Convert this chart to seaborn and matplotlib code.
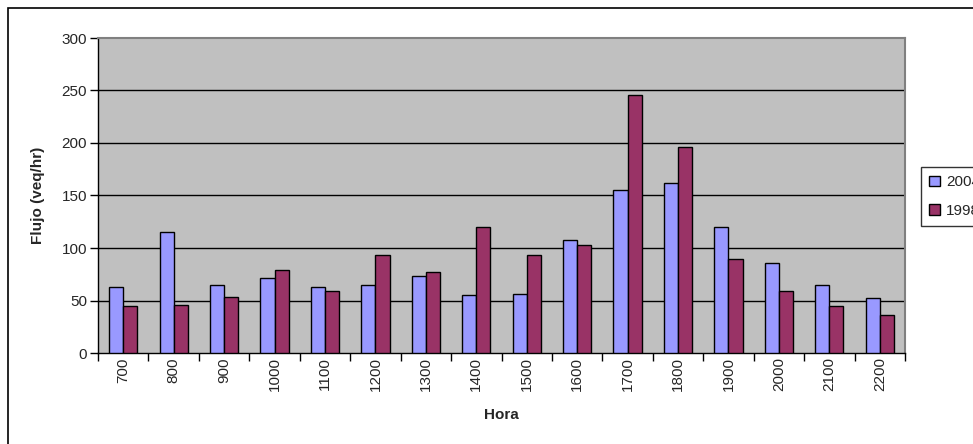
import matplotlib
matplotlib.use("Agg")
import matplotlib.pyplot as plt
import matplotlib.patches as mpatches
import seaborn as sns
import pandas as pd

# Hourly traffic flow (veq/hr) for two survey years
horas = ["700", "800", "900", "1000", "1100", "1200", "1300", "1400",
         "1500", "1600", "1700", "1800", "1900", "2000", "2100", "2200"]
flujo_2004 = [63, 115, 65, 71, 63, 65, 73, 55, 56, 108, 155, 162, 120, 86, 65, 52]
flujo_1998 = [45, 46, 53, 79, 59, 93, 77, 120, 93, 103, 246, 196, 90, 59, 45, 36]
series = ["2004", "1998"]
colores = ["#9999FF", "#993366"]

df = pd.concat([
    pd.DataFrame({"Hora": horas, "Flujo": flujo_2004, "Año": series[0]}),
    pd.DataFrame({"Hora": horas, "Flujo": flujo_1998, "Año": series[1]}),
])

sns.set_style("white")
plt.rcParams["font.family"] = ["Liberation Sans", "DejaVu Sans"]

W, H = 973, 444
fig = plt.figure(figsize=(W / 100, H / 100), dpi=100)
ax = fig.add_axes([98 / W, 1 - 353 / H, (905 - 98) / W, (353 - 38) / H])
ax.set_facecolor("#C0C0C0")

sns.barplot(data=df, x="Hora", y="Flujo", hue="Año", order=horas,
            hue_order=series, palette=colores, width=0.56,
            edgecolor="black", linewidth=1, saturation=1, ax=ax,
            legend=False, zorder=3)

ax.set_ylim(0, 300)
ax.set_xlim(-0.5, len(horas) - 0.5)
ax.set_yticks(range(0, 301, 50))
for y in range(50, 300, 50):
    ax.axhline(y, color="black", lw=1, zorder=1)

# tick marks between categories, labels centered under each group
ax.set_xticks([i - 0.5 for i in range(len(horas) + 1)])
ax.set_xticklabels([])
ax.set_xticks(range(len(horas)), minor=True)
ax.set_xticklabels(horas, minor=True, rotation=90, fontsize=11)
ax.tick_params(axis="x", which="minor", length=0, pad=3)
ax.tick_params(axis="x", which="major", length=6, width=1, color="black",
               direction="out", bottom=True)
ax.tick_params(axis="y", length=6, width=1, color="black", direction="out",
               left=True, labelsize=11, pad=2)

for side in ("left", "bottom"):
    ax.spines[side].set_color("black")
    ax.spines[side].set_linewidth(1)
for side in ("top", "right"):
    ax.spines[side].set_color("#808080")
    ax.spines[side].set_linewidth(1.5)

ax.set_xlabel("Hora", fontsize=11, fontweight="bold", labelpad=12)
ax.set_ylabel("Flujo (veq/hr)", fontsize=11, fontweight="bold", labelpad=12)

handles = [mpatches.Patch(facecolor=c, edgecolor="black", lw=1) for c in colores]
leg = fig.legend(handles, series, loc="upper left",
                 bbox_to_anchor=(921 / W, 1 - 167 / H), fontsize=11,
                 frameon=True, fancybox=False, handlelength=0.7,
                 handleheight=0.7, handletextpad=0.4, borderpad=0.55,
                 labelspacing=0.95, borderaxespad=0)
leg.get_frame().set_edgecolor("black")
leg.get_frame().set_linewidth(1)

# chart-area border (left and top edges visible)
fig.add_artist(mpatches.Rectangle((8 / W, -0.1), 1.2, 1.1 - 8 / H,
                                  transform=fig.transFigure, fill=False,
                                  edgecolor="black", lw=1.2))

fig.savefig("out.png", dpi=100)
